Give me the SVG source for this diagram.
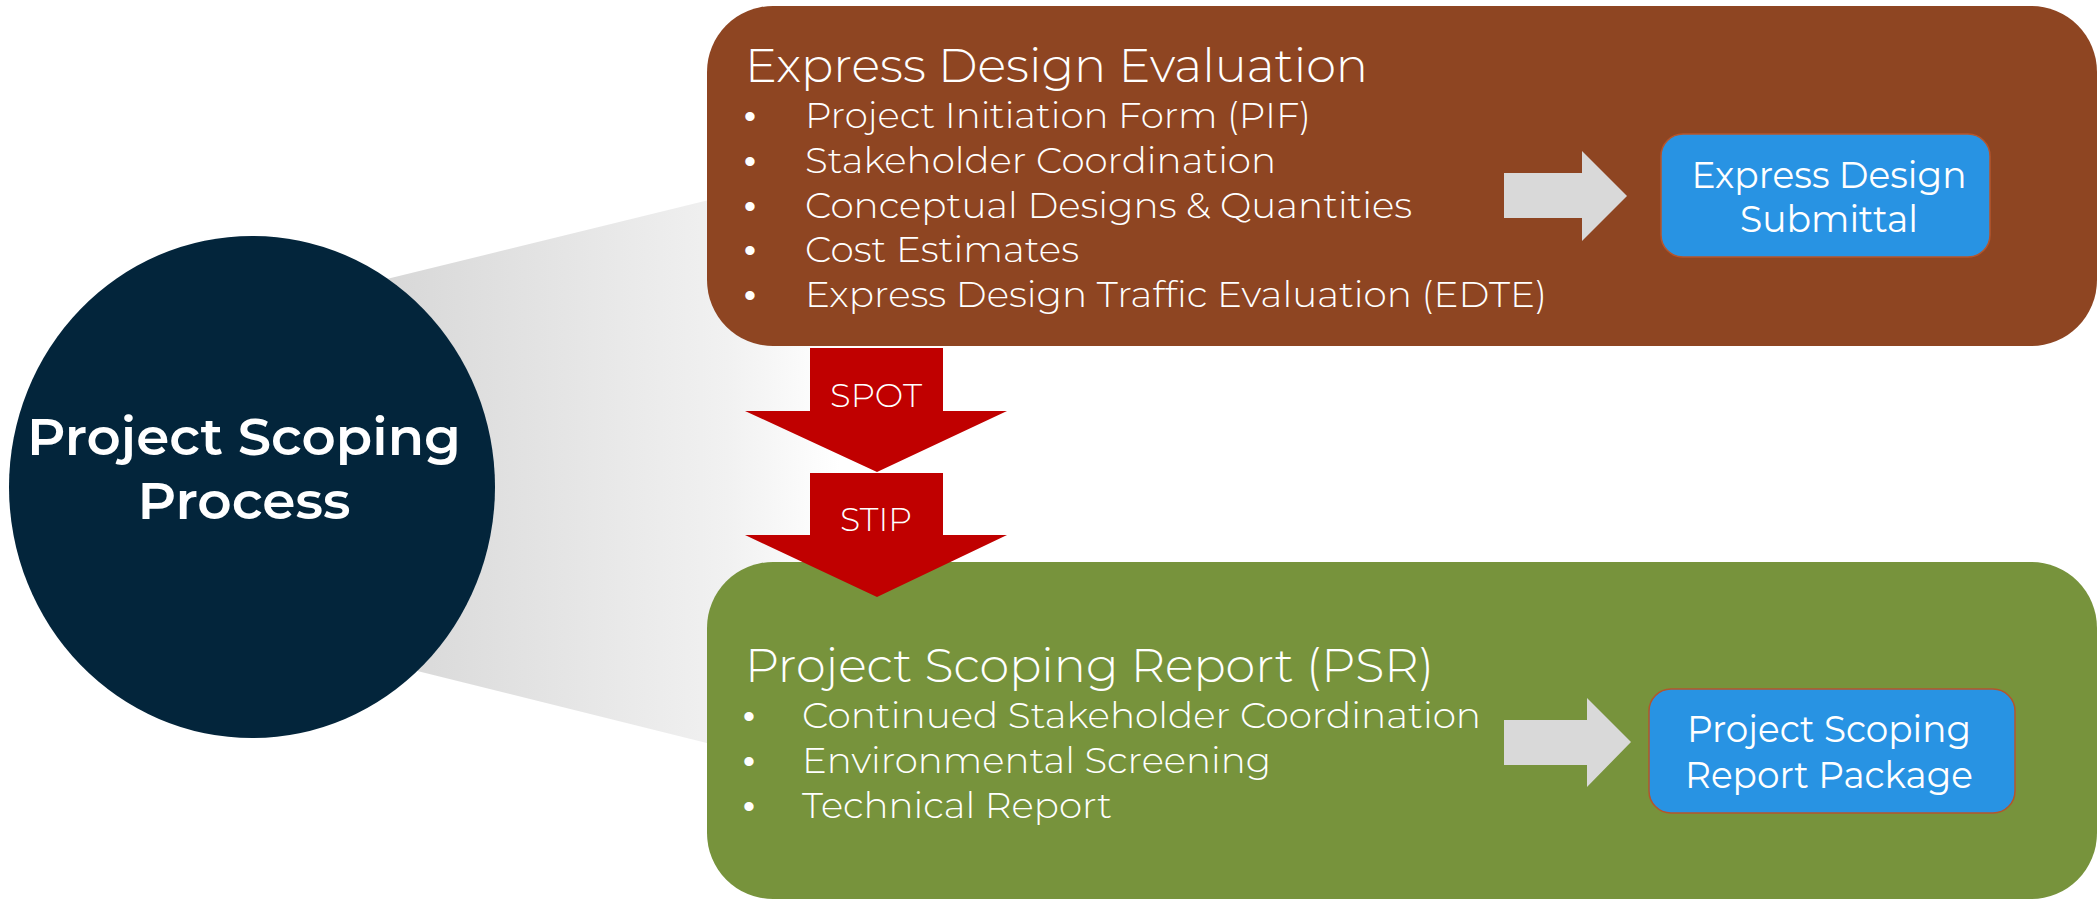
<svg xmlns="http://www.w3.org/2000/svg" width="2099" height="899" viewBox="0 0 2099 899">
<defs>
<linearGradient id="fan" gradientUnits="userSpaceOnUse" x1="390" y1="0" x2="840" y2="0">
<stop offset="0" stop-color="#d8d8d8"/>
<stop offset="0.75" stop-color="#f1f1f1"/>
<stop offset="1" stop-color="#ffffff"/>
</linearGradient>
<style>
.t{font-family:Montserrat,Lato,"Open Sans",sans-serif;fill:#ffffff}
.title{font-size:47px;font-weight:300}
.item{font-size:35px;font-weight:300}
.bul{font-family:"Liberation Sans",Arial,sans-serif;font-size:34px;fill:#ffffff}
.blue{fill:#2893e3;stroke:#b5552c;stroke-width:1.5}
.btxt{font-size:37px;font-weight:400;text-anchor:middle}
.red{fill:#c00000}
.gray{fill:#d9d9d9}
.lbl{font-size:33px;font-weight:300;text-anchor:middle}
</style>
</defs>
<rect width="2099" height="899" fill="#ffffff"/>
<polygon points="252,312 840,168 840,776 252,630" fill="url(#fan)"/>
<g id="express">
<rect x="707" y="6" width="1390" height="340" rx="66" fill="#8e4522"/>
<text class="t title" x="745" y="82" textLength="623" lengthAdjust="spacingAndGlyphs">Express Design Evaluation</text>
<g class="bul">
<text x="744" y="128">•</text>
<text x="744" y="173">•</text>
<text x="744" y="218">•</text>
<text x="744" y="262">•</text>
<text x="744" y="307">•</text>
</g>
<g class="t item">
<text x="805" y="128" textLength="506" lengthAdjust="spacingAndGlyphs">Project Initiation Form (PIF)</text>
<text x="805" y="173" textLength="471" lengthAdjust="spacingAndGlyphs">Stakeholder Coordination</text>
<text x="805" y="218" textLength="607" lengthAdjust="spacingAndGlyphs">Conceptual Designs &amp; Quantities</text>
<text x="805" y="262" textLength="274" lengthAdjust="spacingAndGlyphs">Cost Estimates</text>
<text x="805" y="307" textLength="742" lengthAdjust="spacingAndGlyphs">Express Design Traffic Evaluation (EDTE)</text>
</g>
</g>
<g id="psr">
<rect x="707" y="562" width="1390" height="337" rx="66" fill="#77933c"/>
<text class="t title" x="745" y="682" textLength="689" lengthAdjust="spacingAndGlyphs">Project Scoping Report (PSR)</text>
<g class="bul">
<text x="743" y="728">•</text>
<text x="743" y="773">•</text>
<text x="743" y="818">•</text>
</g>
<g class="t item">
<text x="802" y="728" textLength="679" lengthAdjust="spacingAndGlyphs">Continued Stakeholder Coordination</text>
<text x="802" y="773" textLength="469" lengthAdjust="spacingAndGlyphs">Environmental Screening</text>
<text x="802" y="818" textLength="310" lengthAdjust="spacingAndGlyphs">Technical Report</text>
</g>
</g>
<g id="circle">
<ellipse cx="252" cy="487" rx="243" ry="251" fill="#03253b"/>
<text class="t" x="244" y="455" font-size="52" font-weight="600" text-anchor="middle" textLength="434" lengthAdjust="spacingAndGlyphs">Project Scoping</text>
<text class="t" x="244" y="519" font-size="52" font-weight="600" text-anchor="middle" textLength="213" lengthAdjust="spacingAndGlyphs">Process</text>
</g>
<g id="submittal">
<rect class="blue" x="1661" y="134" width="329" height="123" rx="22"/>
<text class="t btxt" x="1829" y="188" textLength="275" lengthAdjust="spacingAndGlyphs">Express Design</text>
<text class="t btxt" x="1829" y="232" textLength="178" lengthAdjust="spacingAndGlyphs">Submittal</text>
</g>
<g id="package">
<rect class="blue" x="1649" y="689" width="366" height="124" rx="22"/>
<text class="t btxt" x="1829" y="742" textLength="284" lengthAdjust="spacingAndGlyphs">Project Scoping</text>
<text class="t btxt" x="1829" y="788" textLength="288" lengthAdjust="spacingAndGlyphs">Report Package</text>
</g>
<g id="connectors">
<polygon class="gray" points="1504,173 1582,173 1582,151 1627,196 1582,241 1582,218 1504,218"/>
<polygon class="gray" points="1504,720 1587,720 1587,698 1631,742 1587,787 1587,765 1504,765"/>
<polygon class="red" points="810,348 943,348 943,411 1007,411 877,472 745,411 810,411"/>
<text class="t lbl" x="876" y="407" textLength="92" lengthAdjust="spacingAndGlyphs">SPOT</text>
<polygon class="red" points="810,473 943,473 943,535 1007,535 877,597 745,535 810,535"/>
<text class="t lbl" x="876" y="531" textLength="72" lengthAdjust="spacingAndGlyphs">STIP</text>
</g>
</svg>
